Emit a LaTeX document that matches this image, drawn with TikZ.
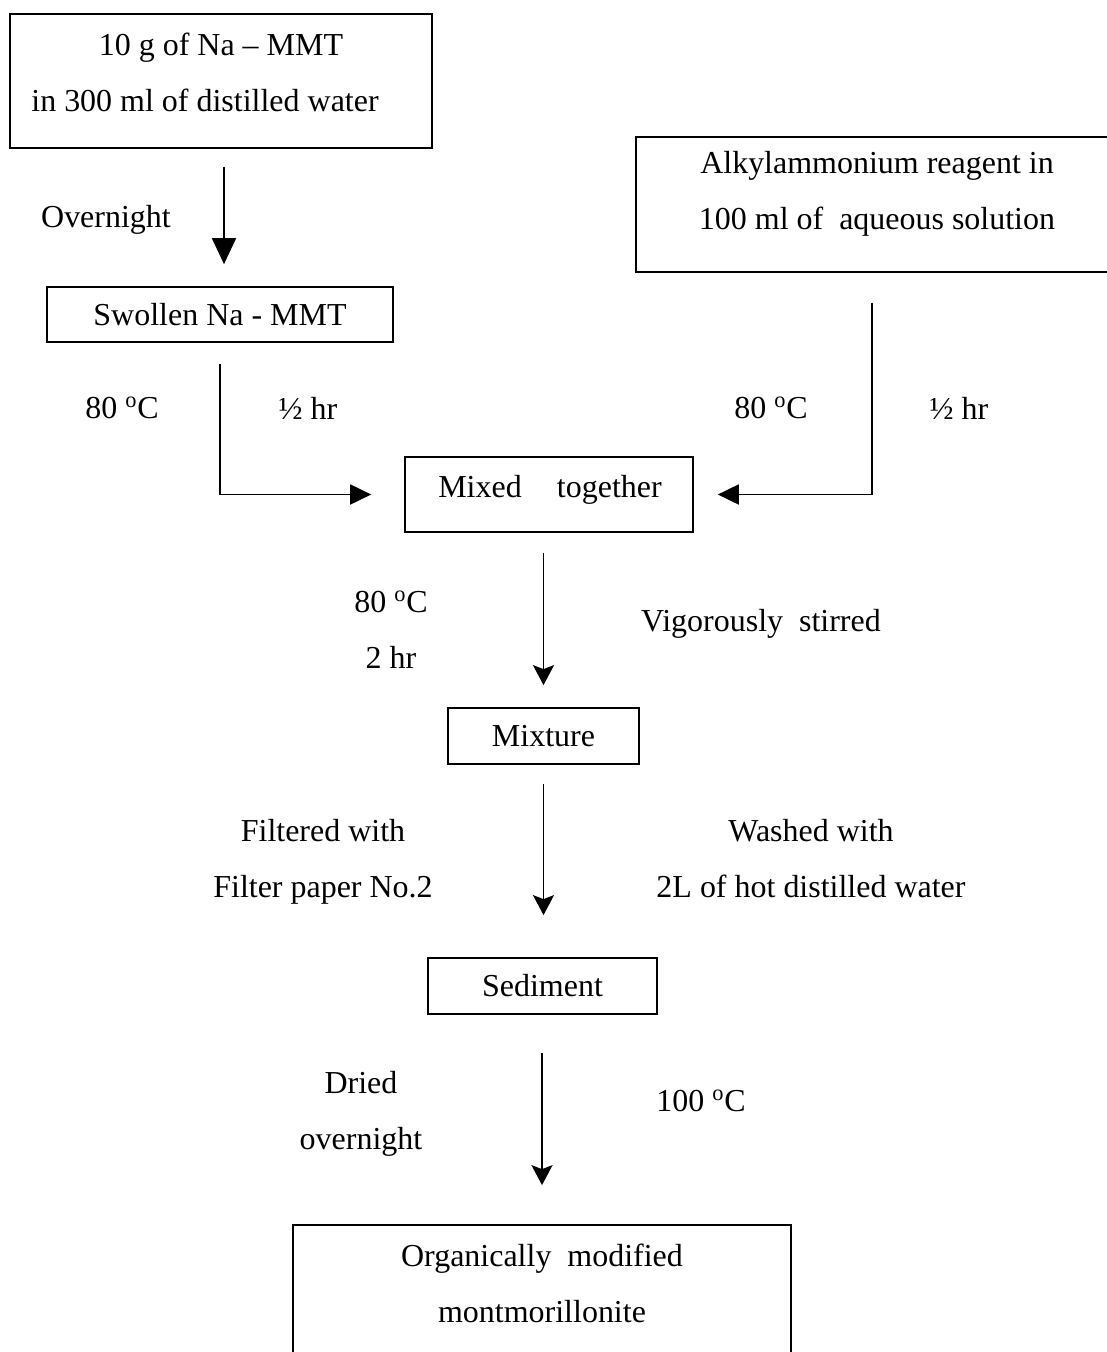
\documentclass[tikz,border=0pt]{standalone}
\usepackage{fontspec}
\setmainfont{Liberation Serif}
\usetikzlibrary{arrows.meta}

\newcommand{\degC}{\textsuperscript{o}C}

\begin{document}
\begin{tikzpicture}[x=0.02cm, y=-0.02cm,
		every node/.style={font=\fontsize{18.2}{31.9}\selectfont},
		box/.style={draw, line width=1pt, inner sep=0pt},
		txt/.style={align=center, inner sep=0pt},
		bigarrow/.style={line width=1.1pt, -{Triangle[width=0.48cm,length=0.52cm]}},
		elbow/.style={line width=1.1pt, -{Triangle[width=0.4cm,length=0.42cm]}},
		smallarrow/.style={line width=1.1pt, -{Stealth[width=0.42cm,length=0.4cm,inset=0.08cm]}}]
		%%%%% START %%%%%
		\useasboundingbox (0,0) rectangle (1106,1352);
		
		% boxes
		\node[box, minimum width=8.44cm, minimum height=2.68cm] (start) at (221,81) {};
		\node[txt] (starttxt) at (221,72.5) {10 g of Na -- MMT\\in 300 ml of distilled water\hspace{1em}\mbox{}};
		
		\node[box, minimum width=10cm, minimum height=2.7cm] (alky) at (886,204.5) {};
		\node[txt] (alkytxt) at (877,194) {Alkylammonium reagent in\\100 ml of\ \ aqueous solution};
		
		\node[box, minimum width=6.92cm, minimum height=1.1cm] (swollen) at (220,314.5) {Swollen Na - MMT};
		
		\node[box, minimum width=5.76cm, minimum height=1.5cm] (mixed) at (549,494.5) {};
		\node[txt] (mixedtxt) at (550,490) {Mixed\hspace{1.1em}together};
		
		\node[box, minimum width=3.82cm, minimum height=1.12cm] (mixture) at (543.5,736) {Mixture};
		\node[box, minimum width=4.58cm, minimum height=1.12cm] (sediment) at (542.5,986) {Sediment};
		
		\node[box, minimum width=9.96cm, minimum height=2.9cm] (final) at (542,1297.5) {};
		\node[txt] (finaltxt) at (542,1283) {Organically\ \ modified\\montmorillonite};
		
		% connectors
		\draw[bigarrow, shorten <=0.36cm, shorten >=0.44cm] (start.south -| 224,0) -- (swollen.north -| 224,0);
		\draw[elbow, shorten <=0.42cm, shorten >=0.66cm] (swollen.south) |- (mixed.west);
		\draw[elbow, shorten <=0.6cm, shorten >=0.48cm] (alky.south -| 872,0) |- (mixed.east);
		\draw[smallarrow, shorten <=0.4cm, shorten >=0.44cm] (mixed.south -| mixture.north) -- (mixture.north);
		\draw[smallarrow, shorten <=0.38cm, shorten >=0.84cm] (mixture.south) -- (mixture.south |- sediment.north);
		\draw[smallarrow, shorten <=0.76cm, shorten >=0.78cm] (sediment.south -| final.north) -- (final.north);
		
		% labels
		\node[txt] (lbovernight) at (106,220) {Overnight};
		\node[txt] (lbtempa) at (122,408) {80 \degC};
		\node[txt] (lbtimea) at (308,408) {\textonehalf\ hr};
		\node[txt] (lbtempb) at (771,408) {80 \degC};
		\node[txt] (lbtimeb) at (959,408) {\textonehalf\ hr};
		\node[txt] (lbmix) at (391,630) {80 \degC\\2 hr};
		\node[txt] (lbstir) at (761,624) {Vigorously\ \ stirred};
		\node[txt] (lbfilter) at (323,862) {Filtered with\\Filter paper No.2};
		\node[txt] (lbwash) at (811,858.5) {Washed with\\2L of hot distilled water};
		\node[txt] (lbdry) at (361,1114) {Dried\\overnight};
		\node[txt] (lbhot) at (701,1101) {100 \degC};
		
		%%%%% END %%%%%
\end{tikzpicture}
\end{document}
